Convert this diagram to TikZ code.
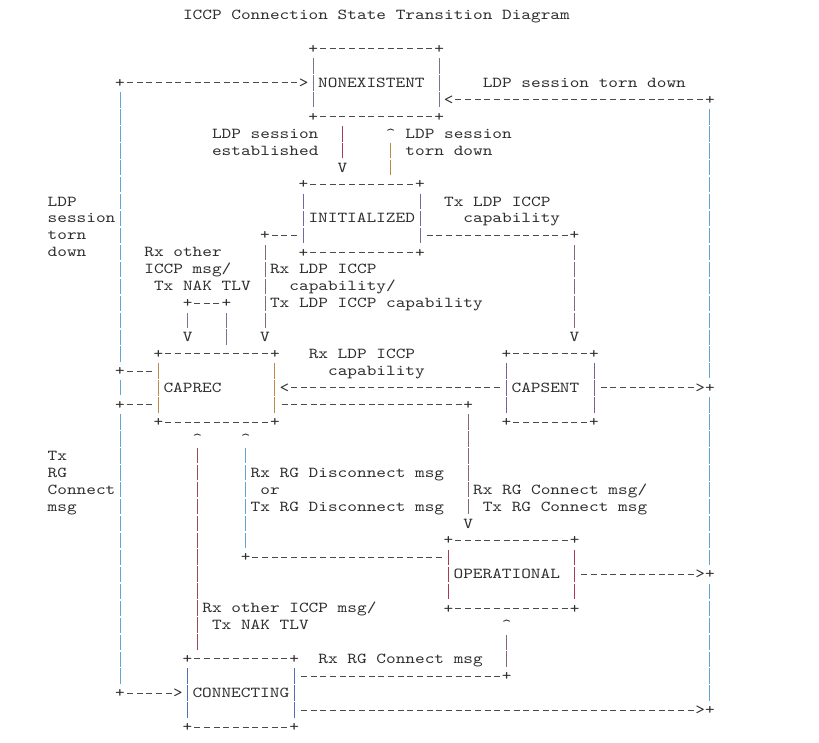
\documentclass[tikz,border=0pt]{standalone}
\usepackage{fontspec}
\newfontfamily\asciifont{lmmono10-regular.otf}[FakeStretch=1.2118]
\usetikzlibrary{calc}

\definecolor{ink}{HTML}{2E2E2E}
\definecolor{dashgray}{HTML}{4A4A4A}
\definecolor{skyblue}{HTML}{62A6D6}
\definecolor{crimson}{HTML}{A83A52}
\definecolor{ochre}{HTML}{B48A48}
\definecolor{mauve}{HTML}{86667F}
\definecolor{slate}{HTML}{6C6D9E}
\definecolor{plum}{HTML}{7A6296}
\definecolor{capbrown}{HTML}{BC8B4C}
\definecolor{wine}{HTML}{984A55}
\definecolor{royal}{HTML}{5070B4}
\definecolor{greyplum}{HTML}{7E7292}

% box of a state: corners, dashed top and bottom, coloured sides
\newcommand{\drawstate}[2]{%
    \node (#1nw) at ($(#1.north west)+(0.5,0.5)$) [glyph] {+};
    \node (#1ne) at ($(#1.north east)+(-0.5,0.5)$) [glyph] {+};
    \node (#1sw) at ($(#1.south west)+(0.5,-0.5)$) [glyph] {+};
    \node (#1se) at ($(#1.south east)+(-0.5,-0.5)$) [glyph] {+};
    \draw [dashline] (#1nw) -- (#1ne);
    \draw [dashline] (#1sw) -- (#1se);
    \draw [vbar=#2] (#1nw) -- (#1sw);
    \draw [vbar=#2] (#1ne) -- (#1se);
}

\begin{document}
\begin{tikzpicture}
    [
        x=9.67pt, y=-16.95pt,
        font=\asciifont\fontsize{15.2pt}{16.95pt}\selectfont,
        glyph/.style={inner sep=0, minimum width=9.67pt, text height=13.07pt, text depth=3.87pt, text=ink,},
        note/.style={anchor=west, inner sep=0, text height=13.07pt, text depth=3.87pt, text=ink,},
        statebox/.style={inner xsep=9.67pt, inner ysep=0, minimum height=84.75pt, text height=13.07pt, text depth=3.87pt, align=left, text=ink,},
        dashline/.style={draw=dashgray, line width=0.8pt, dash pattern=on 6pt off 3.67pt, dash phase=7.835pt,},
        vbar/.style={draw=#1, line width=0.85pt, dash pattern=on 15.45pt off 1.5pt, shorten <=0.75pt, shorten >=0.75pt,},
    ]

    \useasboundingbox (-5.41,-0.885) rectangle (79.29,42.95);

    % states
    \node (nonex) at (33.5,4)    [statebox, text width=116.04pt] {NONEXISTENT};
    \node (init) at (32,12)      [statebox, text width=106.37pt] {INITIALIZED};
    \node (caprec) at (17,22)    [statebox, text width=106.37pt] {CAPREC};
    \node (capsent) at (51.5,22) [statebox, text width=77.36pt] {CAPSENT};
    \node (oper) at (47.5,33)    [statebox, text width=116.04pt] {OPERATIONAL};
    \node (conn) at (19.5,40)    [statebox, text width=96.7pt] {CONNECTING};

    \drawstate{nonex}{greyplum}
    \drawstate{init}{slate}
    \drawstate{caprec}{capbrown}
    \drawstate{capsent}{plum}
    \drawstate{oper}{crimson}
    \drawstate{conn}{royal}

    % corners of the connectors
    \node (l4) at (7,4)     [glyph] {+};
    \node (l21) at (7,21)   [glyph] {+};
    \node (l23) at (7,23)   [glyph] {+};
    \node (l40) at (7,40)   [glyph] {+};
    \node (r5) at (68,5)    [glyph] {+};
    \node (r22) at (68,22)  [glyph] {+};
    \node (r33) at (68,33)  [glyph] {+};
    \node (r41) at (68,41)  [glyph] {+};
    \node (ia) at (22,13)   [glyph] {+};
    \node (ib) at (54,13)   [glyph] {+};
    \node (la) at (14,17)   [glyph] {+};
    \node (lb) at (18,17)   [glyph] {+};
    \node (pa) at (43,23)   [glyph] {+};
    \node (pb) at (20,32)   [glyph] {+};
    \node (ca) at (47,39)   [glyph] {+};

    % arrow heads
    \node (t1) at (26,4)    [glyph] {>};
    \node (t2) at (41,5)    [glyph] {<};
    \node (t3) at (30,9)    [glyph] {V};
    \node (t4) at (35,7)    [glyph] {\textasciicircum};
    \node (t5) at (14,19)   [glyph] {V};
    \node (t6) at (22,19)   [glyph] {V};
    \node (t7) at (54,19)   [glyph] {V};
    \node (t8) at (24,22)   [glyph] {<};
    \node (t9) at (67,22)   [glyph] {>};
    \node (t10) at (15,25)  [glyph] {\textasciicircum};
    \node (t11) at (20,25)  [glyph] {\textasciicircum};
    \node (t12) at (43,30)  [glyph] {V};
    \node (t13) at (67,33)  [glyph] {>};
    \node (t14) at (47,36)  [glyph] {\textasciicircum};
    \node (t15) at (13,40)  [glyph] {>};
    \node (t16) at (67,41)  [glyph] {>};

    % labels
    \node (title) at (13.5,0)  [note] {ICCP Connection State Transition Diagram};
    \node (down0) at (44.5,4)  [note] {LDP session torn down};
    \node (est1) at (16.5,7)   [note] {LDP session};
    \node (est2) at (16.5,8)   [note] {established};
    \node (down1) at (36.5,7)  [note] {LDP session};
    \node (down2) at (36.5,8)  [note] {torn down};
    \node (side1) at (-0.5,11) [note] {LDP};
    \node (side2) at (-0.5,12) [note] {session};
    \node (side3) at (-0.5,13) [note] {torn};
    \node (side4) at (-0.5,14) [note] {down};
    \node (txcap1) at (40.5,11) [note] {Tx LDP ICCP};
    \node (txcap2) at (42.5,12) [note] {capability};
    \node (nak1) at (9.5,14)   [note] {Rx other};
    \node (nak2) at (9.5,15)   [note] {ICCP msg/};
    \node (nak3) at (10.5,16)  [note] {Tx NAK TLV};
    \node (rxcap1) at (22.5,15) [note] {Rx LDP ICCP};
    \node (rxcap2) at (24.5,16) [note] {capability/};
    \node (rxcap3) at (22.5,17) [note] {Tx LDP ICCP capability};
    \node (rxcap4) at (26.5,20) [note] {Rx LDP ICCP};
    \node (rxcap5) at (28.5,21) [note] {capability};
    \node (side5) at (-0.5,26) [note] {Tx};
    \node (side6) at (-0.5,27) [note] {RG};
    \node (side7) at (-0.5,28) [note] {Connect};
    \node (side8) at (-0.5,29) [note] {msg};
    \node (disc1) at (20.5,27) [note] {Rx RG Disconnect msg};
    \node (disc2) at (21.5,28) [note] {or};
    \node (disc3) at (20.5,29) [note] {Tx RG Disconnect msg};
    \node (rgc1) at (43.5,28)  [note] {Rx RG Connect msg/};
    \node (rgc2) at (44.5,29)  [note] {Tx RG Connect msg};
    \node (nak4) at (15.5,35)  [note] {Rx other ICCP msg/};
    \node (nak5) at (16.5,36)  [note] {Tx NAK TLV};
    \node (rgc3) at (27.5,38)  [note] {Rx RG Connect msg};

    % left loop
    \draw [vbar=skyblue] (l4) -- (l21);
    \draw [vbar=skyblue] (l21) -- (l23);
    \draw [vbar=skyblue] (l23) -- (l40);
    \draw [dashline] (l4) -- (t1);
    \draw [dashline] (l21) -- (l21 -| caprec.west);
    \draw [dashline] (l23) -- (l23 -| caprec.west);
    \draw [dashline] (l40) -- (t15);

    % right loop
    \draw [vbar=skyblue] (r5) -- (r22);
    \draw [vbar=skyblue] (r22) -- (r33);
    \draw [vbar=skyblue] (r33) -- (r41);
    \draw [dashline] (r5) -- (t2);
    \draw [dashline] (capsent) -- (t9);
    \draw [dashline] (oper) -- (t13);
    \draw [dashline] (t16 -| conn.east) -- (t16);

    % transitions
    \draw [vbar=crimson] (nonex.south -| t3) -- (t3);
    \draw [vbar=ochre] (init.north -| t4) -- (t4);
    \draw [dashline] (init.east |- ib) -- (ib);
    \draw [vbar=mauve] (ib) -- (t7);
    \draw [dashline] (init.west |- ia) -- (ia);
    \draw [vbar=mauve] (ia) -- (t6);
    \draw [vbar=greyplum] (caprec.north -| lb) -- (lb);
    \draw [dashline] (lb) -- (la);
    \draw [vbar=greyplum] (la) -- (t5);
    \draw [dashline] (capsent) -- (t8);
    \draw [dashline] (caprec.east |- pa) -- (pa);
    \draw [vbar=mauve] (pa) -- (t12);
    \draw [dashline] (oper.west |- pb) -- (pb);
    \draw [vbar=skyblue] (pb) -- (t11);
    \draw [vbar=wine] (conn.north -| t10) -- (t10);
    \draw [dashline] (conn.east |- ca) -- (ca);
    \draw [vbar=mauve] (ca) -- (t14);

\end{tikzpicture}
\end{document}
